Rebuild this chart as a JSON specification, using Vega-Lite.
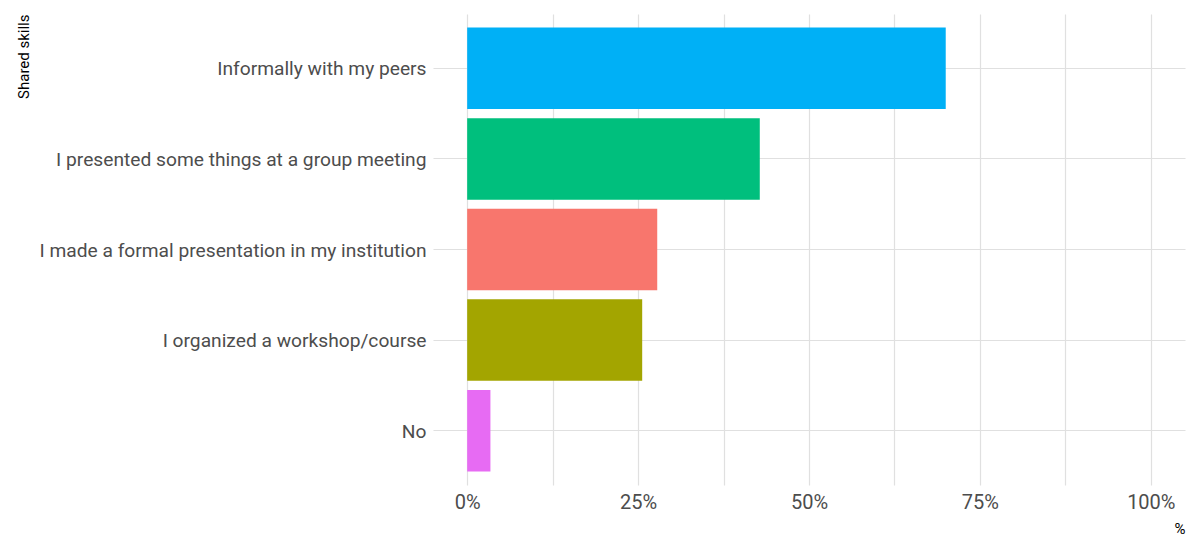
{
  "$schema": "https://vega.github.io/schema/vega-lite/v6.json",
  "width": 752,
  "height": 471,
  "autosize": {"type": "none"},
  "padding": {"left": 433, "top": 14, "right": 15, "bottom": 62},
  "background": "white",
  "config": {
    "view": {"stroke": null},
    "font": "Roboto"
  },
  "data": {
    "values": [
      {"skill": "Informally with my peers", "pct": 0.70},
      {"skill": "I presented some things at a group meeting", "pct": 0.428},
      {"skill": "I made a formal presentation in my institution", "pct": 0.278},
      {"skill": "I organized a workshop/course", "pct": 0.256},
      {"skill": "No", "pct": 0.034}
    ]
  },
  "mark": {"type": "bar"},
  "encoding": {
    "y": {
      "field": "skill",
      "type": "nominal",
      "sort": ["Informally with my peers", "I presented some things at a group meeting", "I made a formal presentation in my institution", "I organized a workshop/course", "No"],
      "scale": {"paddingInner": 0.1, "paddingOuter": 0.15},
      "axis": {
        "title": "Shared skills",
        "titleFont": "Roboto",
        "titleFontSize": 15,
        "titleFontWeight": "normal",
        "titleColor": "#000000",
        "titleAngle": -90,
        "titleX": -405,
        "titleY": 0,
        "titleAlign": "right",
        "titleBaseline": "alphabetic",
        "labelFont": "Roboto",
        "labelFontSize": 19.2,
        "labelColor": "#4d4d4d",
        "labelPadding": 7,
        "labelLimit": 500,
        "labelBaseline": "middle",
        "labelOffset": 1,
        "ticks": false,
        "domain": false,
        "grid": true,
        "bandPosition": 0.5,
        "gridColor": "#e0e0e0",
        "gridWidth": 1.2
      }
    },
    "x": {
      "field": "pct",
      "type": "quantitative",
      "scale": {"domain": [-0.05, 1.05], "nice": false, "zero": false},
      "axis": {
        "title": "%",
        "titleFont": "Roboto",
        "titleFontSize": 15,
        "titleFontWeight": "normal",
        "titleColor": "#000000",
        "titleX": 752,
        "titleY": 48,
        "titleAlign": "right",
        "titleBaseline": "alphabetic",
        "values": [0, 0.125, 0.25, 0.375, 0.5, 0.625, 0.75, 0.875, 1],
        "labelExpr": "(round(datum.value*1000) % 250 == 0) ? format(datum.value, '.0%') : ''",
        "labelFont": "Roboto",
        "labelFontSize": 20,
        "labelColor": "#4d4d4d",
        "labelPadding": 7,
        "labelFlush": false,
        "ticks": false,
        "domain": false,
        "grid": true,
        "gridColor": "#e0e0e0",
        "gridWidth": 1.2
      }
    },
    "color": {
      "field": "skill",
      "type": "nominal",
      "scale": {
        "domain": ["Informally with my peers", "I presented some things at a group meeting", "I made a formal presentation in my institution", "I organized a workshop/course", "No"],
        "range": ["#00B0F6", "#00BF7D", "#F8766D", "#A3A500", "#E76BF3"]
      },
      "legend": null
    }
  }
}
